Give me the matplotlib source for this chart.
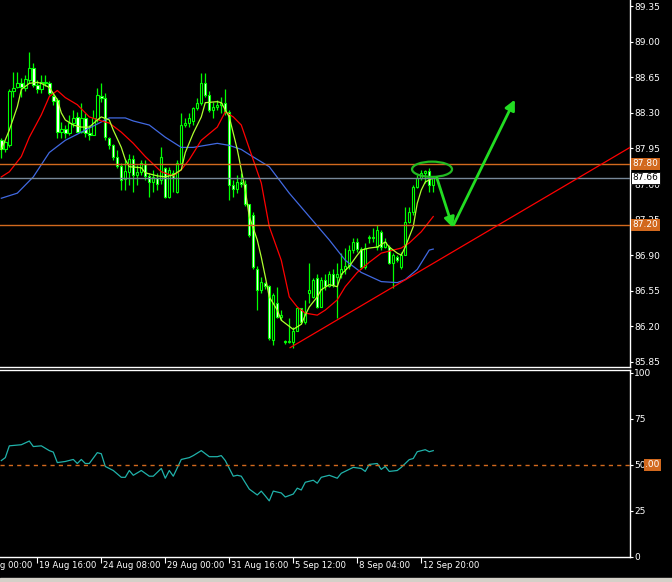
import matplotlib
matplotlib.use("Agg")
import matplotlib.pyplot as plt
from matplotlib.patches import Ellipse, Rectangle

# H4 candles
opens = [88.03, 87.94, 87.98, 88.51, 88.55, 88.59, 88.54, 88.62, 88.74, 88.57,
         88.53, 88.60, 88.59, 88.47, 88.43, 88.11, 88.14, 88.10, 88.20, 88.26,
         88.11, 88.25, 88.10, 88.08, 88.24, 88.47, 88.45, 88.05, 87.98, 87.87,
         87.78, 87.65, 87.72, 87.85, 87.69, 87.72, 87.80, 87.68, 87.62, 87.66,
         87.64, 87.76, 87.47, 87.71, 87.52, 87.81, 88.18, 88.20, 88.22, 88.35,
         88.40, 88.59, 88.48, 88.33, 88.36, 88.38, 88.40, 88.31, 87.59, 87.55,
         87.62, 87.60, 87.40, 87.30, 86.76, 86.56, 86.63, 86.60, 86.07, 86.43,
         86.29, 86.06, 86.05, 86.05, 86.15, 86.38, 86.24, 86.53, 86.49, 86.68,
         86.39, 86.66, 86.60, 86.71, 86.69, 86.71, 86.76, 86.79, 86.95, 87.03,
         86.96, 86.78, 87.07, 87.08, 86.98, 87.13, 86.98, 86.98, 86.82, 86.88,
         86.78, 86.90, 87.23, 87.32, 87.57, 87.66, 87.71, 87.73, 87.59]
highs = [88.05, 88.02, 88.53, 88.70, 88.70, 88.64, 88.67, 88.90, 88.79, 88.62,
         88.67, 88.67, 88.61, 88.50, 88.45, 88.21, 88.18, 88.28, 88.33, 88.31,
         88.40, 88.30, 88.18, 88.33, 88.54, 88.59, 88.50, 88.06, 87.99, 87.93,
         87.81, 87.84, 87.90, 87.89, 87.79, 87.84, 87.84, 87.71, 87.74, 87.71,
         87.96, 87.77, 87.77, 87.74, 87.84, 88.30, 88.25, 88.30, 88.36, 88.45,
         88.69, 88.69, 88.51, 88.41, 88.43, 88.46, 88.53, 88.33, 87.64, 87.69,
         87.71, 87.64, 87.40, 87.32, 86.79, 86.69, 86.64, 86.61, 86.53, 86.59,
         86.36, 86.07, 86.28, 86.19, 86.39, 86.38, 86.46, 86.82, 86.68, 86.71,
         86.69, 86.71, 86.74, 86.76, 86.82, 86.92, 86.97, 87.00, 87.07, 87.07,
         86.98, 87.02, 87.10, 87.17, 87.20, 87.15, 87.07, 87.00, 86.92, 86.90,
         86.93, 87.37, 87.37, 87.59, 87.69, 87.74, 87.74, 87.76, 87.68]
lows = [87.86, 87.91, 87.96, 88.46, 88.54, 88.46, 88.51, 88.59, 88.55, 88.50,
        88.50, 88.56, 88.48, 88.38, 88.05, 88.05, 88.05, 88.08, 88.16, 88.11,
        88.10, 88.06, 88.03, 88.08, 88.21, 88.41, 88.03, 87.94, 87.84, 87.76,
        87.54, 87.54, 87.59, 87.52, 87.59, 87.69, 87.64, 87.47, 87.52, 87.54,
        87.60, 87.46, 87.46, 87.52, 87.51, 87.81, 88.16, 88.16, 88.18, 88.33,
        88.38, 88.46, 88.31, 88.25, 88.33, 88.30, 88.28, 87.44, 87.47, 87.51,
        87.57, 87.38, 87.08, 86.76, 86.36, 86.53, 86.57, 86.07, 86.02, 86.28,
        86.26, 86.03, 86.04, 85.99, 86.15, 86.22, 86.22, 86.43, 86.48, 86.38,
        86.39, 86.56, 86.59, 86.59, 86.28, 86.68, 86.71, 86.76, 86.92, 86.93,
        86.76, 86.76, 87.02, 87.03, 86.95, 86.95, 86.97, 86.81, 86.58, 86.83,
        86.76, 86.90, 87.22, 87.30, 87.56, 87.64, 87.61, 87.52, 87.52]
closes = [87.94, 88.01, 88.51, 88.54, 88.59, 88.55, 88.63, 88.74, 88.57, 88.53,
          88.60, 88.59, 88.50, 88.42, 88.11, 88.14, 88.10, 88.20, 88.25, 88.11,
          88.25, 88.10, 88.08, 88.25, 88.48, 88.45, 88.06, 87.98, 87.87, 87.78,
          87.64, 87.73, 87.85, 87.69, 87.72, 87.81, 87.68, 87.62, 87.67, 87.60,
          87.87, 87.47, 87.74, 87.66, 87.81, 88.18, 88.20, 88.25, 88.35, 88.40,
          88.59, 88.48, 88.33, 88.36, 88.38, 88.40, 88.31, 87.59, 87.55, 87.62,
          87.60, 87.40, 87.10, 86.78, 86.56, 86.64, 86.60, 86.09, 86.51, 86.29,
          86.31, 86.05, 86.06, 86.15, 86.38, 86.24, 86.33, 86.56, 86.66, 86.39,
          86.66, 86.60, 86.71, 86.61, 86.71, 86.76, 86.79, 86.95, 87.03, 86.96,
          86.78, 86.97, 87.08, 87.07, 87.15, 86.98, 87.03, 86.82, 86.90, 86.85,
          86.90, 87.23, 87.32, 87.57, 87.66, 87.71, 87.73, 87.59, 87.66]

# moving averages
fast_idx = [0, 2, 4, 5, 7, 9, 10, 12, 14, 15, 16, 18, 20, 22, 24, 25, 27, 28, 30, 31,
            32, 35, 36, 39, 41, 43, 45, 46, 48, 50, 51, 54, 55, 57, 59, 60, 61, 62, 64, 65,
            66, 67, 69, 70, 72, 73, 75, 76, 77, 79, 80, 82, 84, 85, 87, 89, 90, 92, 94, 96,
            97, 99, 100, 101, 103, 104, 105, 106, 108]
fast_vals = [87.94, 88.13, 88.36, 88.53, 88.59, 88.60, 88.59, 88.55, 88.43, 88.30,
             88.23, 88.18, 88.16, 88.16, 88.23, 88.26, 88.23, 88.13, 87.96, 87.84,
             87.77, 87.76, 87.71, 87.68, 87.67, 87.69, 87.74, 87.91, 88.10, 88.26,
             88.40, 88.41, 88.40, 88.26, 87.94, 87.74, 87.54, 87.28, 87.05, 86.88,
             86.69, 86.49, 86.36, 86.26, 86.20, 86.17, 86.22, 86.31, 86.39, 86.49,
             86.56, 86.61, 86.59, 86.71, 86.79, 86.90, 86.95, 86.97, 86.98, 87.03,
             86.98, 86.92, 86.90, 86.98, 87.18, 87.41, 87.54, 87.62, 87.66]
mid_idx = [0, 2, 5, 7, 10, 12, 14, 16, 19, 22, 25, 27, 30, 33, 36, 40, 43, 45, 47, 50,
           54, 56, 58, 60, 62, 65, 67, 70, 72, 74, 76, 79, 81, 84, 86, 89, 92, 95, 98, 100,
           102, 105, 108]
mid_vals = [87.67, 87.72, 87.87, 88.06, 88.28, 88.46, 88.52, 88.45, 88.38, 88.26,
            88.22, 88.20, 88.11, 88.00, 87.87, 87.72, 87.68, 87.74, 87.84, 88.03,
            88.16, 88.31, 88.26, 88.18, 87.95, 87.61, 87.18, 86.85, 86.49, 86.39,
            86.33, 86.31, 86.36, 86.46, 86.59, 86.73, 86.83, 86.92, 86.95, 86.97,
            87.02, 87.13, 87.28]
slow_idx = [0, 4, 8, 12, 16, 20, 25, 27, 31, 33, 37, 41, 45, 48, 51, 54, 57, 60, 62, 67,
            72, 77, 82, 86, 90, 95, 99, 101, 104, 107, 108]
slow_vals = [87.46, 87.51, 87.67, 87.91, 88.03, 88.11, 88.21, 88.25, 88.25, 88.22,
             88.18, 88.06, 87.96, 87.96, 87.98, 88.00, 87.98, 87.94, 87.89, 87.77,
             87.51, 87.28, 87.05, 86.85, 86.73, 86.64, 86.63, 86.66, 86.76, 86.95, 86.96]

# RSI in the lower window
rsi_idx = [0, 1, 2, 5, 7, 8, 10, 12, 13, 14, 16, 18, 19, 20, 21, 22, 24, 25, 26, 28,
           30, 31, 32, 33, 35, 37, 38, 40, 41, 42, 43, 45, 47, 48, 50, 52, 54, 55, 56, 58,
           59, 60, 62, 64, 65, 66, 67, 68, 70, 71, 73, 74, 75, 76, 78, 79, 80, 82, 84, 85,
           88, 90, 91, 92, 94, 95, 96, 97, 99, 100, 102, 103, 104, 106, 107, 108]
rsi_vals = [52.4, 54, 60.4, 61, 63, 60, 60.4, 57.8, 57, 51.3, 51.9, 53, 50.8, 53, 50.8,
            50.8, 56.7, 56.1, 49.2, 47, 43.3, 43.3, 47, 44.4, 47, 43.9, 43.9, 48.1, 42.8, 47,
            43.9, 53, 54, 55.1, 57.8, 54.5, 54.5, 55.1, 52.4, 43.9, 44.4, 43.9, 36.9, 33.7,
            35.8, 33.2, 30.5, 35.8, 34.8, 32.6, 34.2, 37.4, 36.4, 40.6, 41.7, 40.1, 43.3,
            44.4, 42.8, 45.5, 48.7, 48.1, 46.5, 50.3, 50.8, 47.6, 49.2, 46.5, 47, 48.7, 52.9,
            53.5, 57.2, 58.3, 57.2, 57.8]

price_ticks = [85.85, 86.20, 86.55, 86.90, 87.25, 87.60, 87.95, 88.30, 88.65, 89.00, 89.35]
rsi_ticks = [0, 25, 50, 75, 100]
time_pos = [-7, 9, 25, 41, 57, 73, 89, 105]
time_labels = ["17 Aug 00:00", "19 Aug 16:00", "24 Aug 08:00", "29 Aug 00:00",
               "31 Aug 16:00", "5 Sep 12:00", "8 Sep 04:00", "12 Sep 20:00"]

levels = [87.80, 87.20]
bid = 87.66
trend = ([72.2, 157.2], [85.99, 87.96])
arrow_down = ((108.9, 87.66), (112.9, 87.17))
arrow_up = ((113.1, 87.20), (128.4, 88.43))
circle = (107.7, 87.745, 10.0, 0.15)

LIME = "#00ff00"
ORANGE = "#d2691e"
plt.rcParams["font.family"] = ["DejaVu Sans"]

W, H = 672, 582
fig = plt.figure(figsize=(W / 100, H / 100), dpi=100, facecolor="black")
ax = fig.add_axes([0, 1 - 367 / H, 630 / W, 367 / H], facecolor="black")
ax2 = fig.add_axes([0, 1 - 557 / H, 630 / W, (557 - 370) / H], facecolor="black")
fig.patches.append(Rectangle((0, 0), 1, 4 / H, transform=fig.transFigure,
                             color="#d4d0c8", zorder=0))

for a in (ax, ax2):
    a.set_xlim(-0.33, 157.2)
    for s in a.spines.values():
        s.set_color("white")
        s.set_linewidth(1)
    a.spines["left"].set_visible(False)
    a.yaxis.tick_right()
    a.tick_params(axis="y", colors="white", labelsize=6.5, length=2, width=0.8, pad=1)
ax.spines["top"].set_visible(False)

# candles
n = list(range(len(closes)))
ax.vlines(n, lows, highs, color=LIME, lw=0.9, zorder=2)
bottoms = [min(o, c) for o, c in zip(opens, closes)]
heights = [max(abs(c - o), 0.006) for o, c in zip(opens, closes)]
fills = ["black" if c >= o else "white" for o, c in zip(opens, closes)]
ax.bar(n, heights, bottom=bottoms, width=0.6, color=fills, edgecolor=LIME,
       linewidth=0.8, zorder=3)

ax.plot(slow_idx, slow_vals, color="#4169e1", lw=0.9, zorder=4)
ax.plot(mid_idx, mid_vals, color="#ff0000", lw=0.9, zorder=4)
ax.plot(fast_idx, fast_vals, color="#adff2f", lw=0.9, zorder=4)

for lv in levels:
    ax.axhline(lv, color=ORANGE, lw=1, zorder=5)
ax.axhline(bid, color="#778899", lw=1, zorder=5)
ax.plot(*trend, color="red", lw=0.9, zorder=5)

cx, cy, cw, ch = circle
ax.add_patch(Ellipse((cx, cy), cw, ch, fill=False, ec="#22bb22", lw=1.6, zorder=6))
for start, end in (arrow_down, arrow_up):
    ax.annotate("", xy=end, xytext=start,
                arrowprops=dict(arrowstyle="-|>", color="#22dd22", lw=2,
                                mutation_scale=15, shrinkA=0, shrinkB=0), zorder=6)

ax.set_ylim(85.80, 89.41)
ax.set_yticks(price_ticks)
ax.set_yticklabels([f"{t:.2f}" for t in price_ticks])
ax.set_xticks([])

tr = ax.get_yaxis_transform()
for lv in levels:
    ax.text(1.004, lv, f"{lv:.2f}", transform=tr, color="white", fontsize=6.5,
            va="center", ha="left", clip_on=False, zorder=10,
            bbox=dict(boxstyle="square,pad=0.15", fc=ORANGE, ec="none"))
ax.text(1.004, bid, f"{bid:.2f}", transform=tr, color="black", fontsize=6.5,
        va="center", ha="left", clip_on=False, zorder=10,
        bbox=dict(boxstyle="square,pad=0.15", fc="white", ec="black", lw=0.6))

# RSI window
ax2.plot(rsi_idx, rsi_vals, color="#20b2aa", lw=0.9)
ax2.axhline(50, color=ORANGE, lw=1, ls=(0, (3, 3)))
ax2.set_ylim(0, 101.6)
ax2.set_yticks(rsi_ticks)
ax2.set_yticklabels([str(t) for t in rsi_ticks])
ax2.text(1.024, 50, ".00", transform=ax2.get_yaxis_transform(), color="white",
         fontsize=6.5, va="center", ha="left", clip_on=False, zorder=10,
         bbox=dict(boxstyle="square,pad=0.15", fc=ORANGE, ec="none"))

ax2.set_xticks([p for p in time_pos if p >= 0])
ax2.set_xticklabels([])
ax2.tick_params(axis="x", colors="white", length=4, width=0.8, direction="out")
for p, lab in zip(time_pos, time_labels):
    ax2.annotate(lab, xy=(p, 0), xycoords=("data", "axes fraction"),
                 xytext=(1.5, -3), textcoords="offset points", color="white",
                 fontsize=6.1, ha="left", va="top", annotation_clip=False)

fig.savefig("out.png", dpi=100, facecolor="black")
